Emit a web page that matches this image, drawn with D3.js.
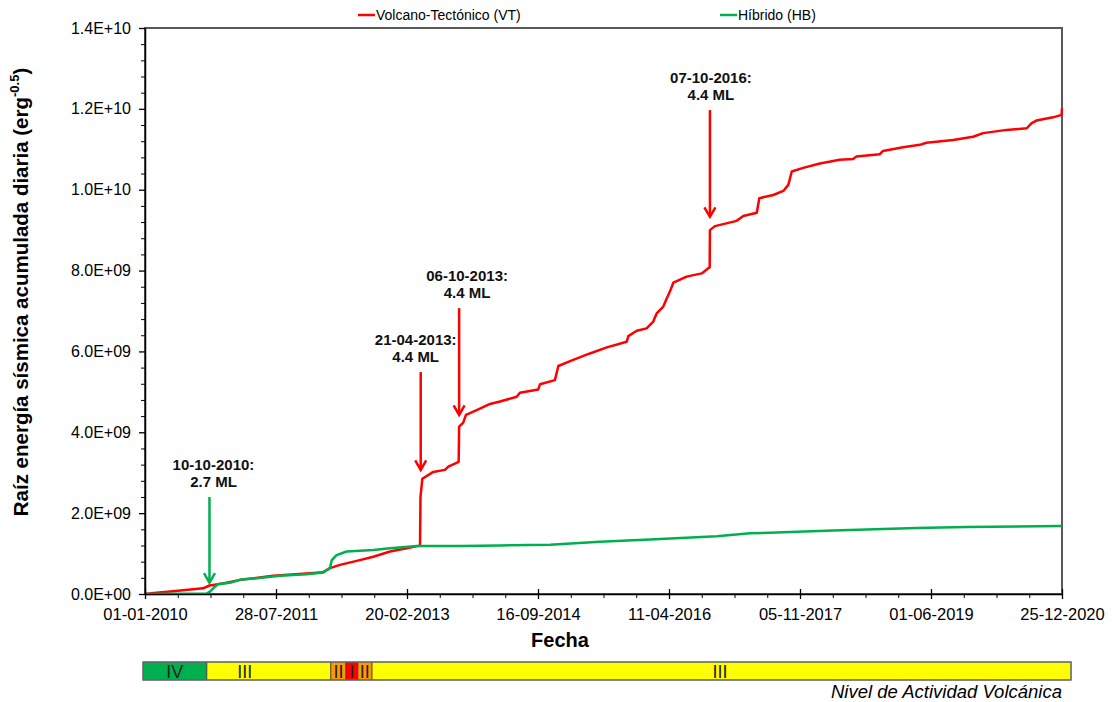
<!DOCTYPE html>
<html>
<head>
<meta charset="utf-8">
<script src="https://cdn.jsdelivr.net/npm/d3@7"></script>
<style>
  body { margin: 0; background: #fff; }
  svg { display: block; font-family: "Liberation Sans", Arial, sans-serif; }
</style>
</head>
<body>
<svg id="chart" width="1112" height="702"></svg>
<script>
// ---- Series: cumulative square-root seismic energy (erg^0.5) ----
const vtDates = [
  "2010-01-01","2010-02-20","2010-05-03","2010-09-12","2010-10-10","2010-12-08",
  "2011-02-21","2011-07-15","2011-12-09","2012-02-19","2012-03-20","2012-05-03",
  "2012-07-15","2012-09-26","2012-12-08","2013-02-19","2013-04-10","2013-04-18",
  "2013-04-20","2013-04-28","2013-06-15","2013-08-05","2013-08-20","2013-10-04",
  "2013-10-06","2013-10-24","2013-11-05","2013-12-22","2014-02-18","2014-04-03",
  "2014-06-15","2014-06-29","2014-09-17","2014-09-25","2014-11-29","2014-12-14",
  "2015-02-17","2015-05-01","2015-07-14","2015-10-09","2015-10-16","2015-11-22",
  "2016-01-04","2016-02-02","2016-02-17","2016-03-17","2016-04-01","2016-04-15",
  "2016-04-30","2016-06-27","2016-09-01","2016-09-30","2016-10-06","2016-10-07",
  "2016-10-29","2017-02-01","2017-03-02","2017-04-30","2017-05-11","2017-07-11",
  "2017-08-24","2017-09-15","2017-09-30","2017-11-19","2018-01-31","2018-04-28",
  "2018-06-25","2018-07-10","2018-10-20","2018-11-03","2019-01-30","2019-04-13",
  "2019-05-12","2019-09-06","2019-12-02","2020-01-15","2020-04-27","2020-07-24",
  "2020-08-13","2020-09-04","2020-11-16","2020-12-23","2020-12-25"
];
const vtValues = [
  0, 0.03e9, 0.07e9, 0.14e9, 0.21e9, 0.26e9,
  0.35e9, 0.45e9, 0.51e9, 0.54e9, 0.64e9, 0.72e9,
  0.82e9, 0.92e9, 1.05e9, 1.13e9, 1.19e9, 1.21e9,
  2.40e9, 2.85e9, 3.02e9, 3.07e9, 3.15e9, 3.27e9,
  4.14e9, 4.24e9, 4.43e9, 4.55e9, 4.70e9, 4.76e9,
  4.88e9, 4.98e9, 5.06e9, 5.19e9, 5.29e9, 5.64e9,
  5.79e9, 5.95e9, 6.10e9, 6.24e9, 6.38e9, 6.51e9,
  6.57e9, 6.74e9, 6.94e9, 7.11e9, 7.31e9, 7.48e9,
  7.70e9, 7.85e9, 7.93e9, 8.06e9, 8.08e9, 9.00e9,
  9.10e9, 9.23e9, 9.35e9, 9.43e9, 9.79e9, 9.87e9,
  9.97e9, 10.12e9, 10.45e9, 10.54e9, 10.65e9, 10.74e9,
  10.76e9, 10.82e9, 10.88e9, 10.96e9, 11.05e9, 11.11e9,
  11.16e9, 11.23e9, 11.31e9, 11.40e9, 11.48e9, 11.52e9,
  11.64e9, 11.71e9, 11.79e9, 11.85e9, 12.01e9
];
const hbDates = [
  "2010-01-01","2010-09-28","2010-10-12","2010-11-03","2010-11-18","2011-01-08",
  "2011-02-21","2011-05-05","2011-08-15","2011-12-09","2012-02-19","2012-03-20",
  "2012-03-28","2012-04-18","2012-06-01","2012-09-26","2012-12-08","2013-04-03",
  "2013-10-10","2014-04-03","2014-11-08","2015-06-14","2016-01-19","2016-11-06",
  "2017-03-31","2018-03-30","2019-03-30","2019-11-03","2020-12-25"
];
const hbValues = [
  0, 0.01e9, 0.06e9, 0.18e9, 0.25e9, 0.28e9,
  0.35e9, 0.39e9, 0.45e9, 0.49e9, 0.53e9, 0.64e9,
  0.84e9, 0.96e9, 1.05e9, 1.09e9, 1.13e9, 1.19e9,
  1.19e9, 1.20e9, 1.22e9, 1.29e9, 1.35e9, 1.43e9,
  1.50e9, 1.57e9, 1.63e9, 1.66e9, 1.68e9
];
const seriesNames = ["Volcano-Tectónico (VT)", "Híbrido (HB)"];

// ---- Axes ----
const xTickLabels = ["01-01-2010","28-07-2011","20-02-2013","16-09-2014","11-04-2016","05-11-2017","01-06-2019","25-12-2020"];
const yTickValues = [0, 2e9, 4e9, 6e9, 8e9, 1e10, 1.2e10, 1.4e10];
const yTickLabels = ["0.0E+00","2.0E+09","4.0E+09","6.0E+09","8.0E+09","1.0E+10","1.2E+10","1.4E+10"];

// ---- Notable earthquakes ----
const eventDates = ["10-10-2010","21-04-2013","06-10-2013","07-10-2016"];
const eventMagnitudes = ["2.7 ML","4.4 ML","4.4 ML","4.4 ML"];
const eventSeries = [1, 0, 0, 0];
const eventArrowTip = [0.28e9, 3.07e9, 4.43e9, 9.33e9];
const eventArrowTail = [2.40e9, 5.49e9, 7.07e9, 11.97e9];
const eventLabelShift = [4, -5, 8, 1];

// ---- Volcanic activity level ----
const levelNames = ["IV","III","II","I","II","III"];
const levelStarts = ["2010-01-01","2010-10-04","2012-03-23","2012-05-27","2012-07-18","2012-09-17"];
const levelEnds = ["2010-10-04","2012-03-23","2012-05-27","2012-07-18","2012-09-17","2020-12-25"];
const levelLabelDates = ["2010-05-18","2011-03-17","2012-04-25","2012-06-22","2012-08-17","2016-10-30"];

// ---- Styles ----
const seriesColors = ["#ff0000", "#00b050"];
const levelColors = { "IV": "#00b050", "III": "#ffff00", "II": "#ff9900", "I": "#ff0000" };

const svg = d3.select("#chart");
const plot = { left: 145, right: 1062, top: 28, bottom: 594 };

const parseISO = d3.utcParse("%Y-%m-%d");
const parseDMY = d3.utcParse("%d-%m-%Y");
const fmtDMY = d3.utcFormat("%d-%m-%Y");

const majorDates = xTickLabels.map(parseDMY);
const x = d3.scaleUtc()
  .domain([majorDates[0], majorDates[majorDates.length - 1]])
  .range([plot.left, plot.right]);
const y = d3.scaleLinear().domain([0, 1.4e10]).range([plot.bottom, plot.top]);

// minor x ticks: four intervals per major interval
const minorDates = [];
for (let i = 0; i < majorDates.length - 1; i++) {
  const t0 = +majorDates[i], t1 = +majorDates[i + 1];
  for (let k = 1; k < 4; k++) minorDates.push(new Date(t0 + (t1 - t0) * k / 4));
}
const minorY = d3.range(0, 1.4e10 + 1, 0.4e9).filter(v => !yTickValues.includes(v));

// plot frame
svg.append("rect")
  .attr("x", plot.left).attr("y", plot.top)
  .attr("width", plot.right - plot.left).attr("height", plot.bottom - plot.top)
  .attr("fill", "none").attr("stroke", "#595959").attr("stroke-width", 2);

// series
const vt = vtDates.map((d, i) => ({ date: parseISO(d), value: vtValues[i] }));
const hb = hbDates.map((d, i) => ({ date: parseISO(d), value: hbValues[i] }));
const line = d3.line().x(d => x(d.date)).y(d => y(d.value));

svg.append("path").datum(vt).attr("d", line)
  .attr("fill", "none").attr("stroke", seriesColors[0]).attr("stroke-width", 2.5)
  .attr("stroke-linejoin", "round");
svg.append("path").datum(hb).attr("d", line)
  .attr("fill", "none").attr("stroke", seriesColors[1]).attr("stroke-width", 2.5)
  .attr("stroke-linejoin", "round");

// x axis
const gx = svg.append("g").attr("transform", `translate(0,${plot.bottom})`);
gx.call(d3.axisBottom(x).tickValues(majorDates).tickFormat(fmtDMY)
  .tickSize(5).tickSizeOuter(0).tickPadding(9));
gx.selectAll("text").attr("font-size", 16.5).attr("fill", "#000")
  .attr("font-family", "'Liberation Sans', Arial, sans-serif");
gx.select(".domain").attr("stroke", "#000").attr("stroke-width", 1.5);
gx.selectAll(".tick line").attr("stroke", "#000").attr("stroke-width", 1.3);
const gxIn = svg.append("g").attr("transform", `translate(0,${plot.bottom})`);
gxIn.call(d3.axisTop(x).tickValues(majorDates).tickFormat("").tickSize(5).tickSizeOuter(0));
gxIn.select(".domain").remove();
gxIn.selectAll(".tick line").attr("stroke", "#000").attr("stroke-width", 1.3);
const gxMinor = svg.append("g").attr("transform", `translate(0,${plot.bottom})`);
gxMinor.call(d3.axisBottom(x).tickValues(minorDates).tickFormat("").tickSize(4).tickSizeOuter(0));
gxMinor.select(".domain").remove();
gxMinor.selectAll(".tick line").attr("stroke", "#000");

// y axis
const gy = svg.append("g").attr("transform", `translate(${plot.left},0)`);
gy.call(d3.axisLeft(y).tickValues(yTickValues).tickFormat((d, i) => yTickLabels[i])
  .tickSize(6).tickSizeOuter(0).tickPadding(8));
gy.selectAll("text").attr("font-size", 16).attr("fill", "#000")
  .attr("font-family", "'Liberation Sans', Arial, sans-serif");
gy.select(".domain").attr("stroke", "#000").attr("stroke-width", 1.5);
gy.selectAll(".tick line").attr("stroke", "#000").attr("stroke-width", 1.3);
const gyMinor = svg.append("g").attr("transform", `translate(${plot.left},0)`);
gyMinor.call(d3.axisLeft(y).tickValues(minorY).tickFormat("").tickSize(4).tickSizeOuter(0));
gyMinor.select(".domain").remove();
gyMinor.selectAll(".tick line").attr("stroke", "#000");

// axis titles
svg.append("text")
  .attr("x", 560).attr("y", 647)
  .attr("text-anchor", "middle").attr("font-size", 20).attr("font-weight", "bold")
  .text("Fecha");
const yTitle = svg.append("text")
  .attr("transform", `translate(28,${(plot.top + plot.bottom) / 2 - 19}) rotate(-90)`)
  .attr("text-anchor", "middle").attr("font-size", 20.5).attr("font-weight", "bold");
yTitle.append("tspan").text("Raíz energía sísmica acumulada diaria (erg");
yTitle.append("tspan").attr("font-size", 13).attr("dy", -9).text("-0.5");
yTitle.append("tspan").attr("dy", 9).text(")");

// legend
const legendX = [358, 720];
seriesNames.forEach((name, i) => {
  const g = svg.append("g").attr("transform", `translate(${legendX[i]},15)`);
  g.append("line").attr("x1", 0).attr("x2", 17).attr("y1", 0).attr("y2", 0)
    .attr("stroke", seriesColors[i]).attr("stroke-width", 2.5);
  g.append("text").attr("x", 18).attr("y", 5).attr("font-size", 14).text(name);
});

// event arrows and labels
eventDates.forEach((ds, i) => {
  const d = parseDMY(ds);
  const ax = x(d);
  const tipY = y(eventArrowTip[i]);
  const tailY = y(eventArrowTail[i]);
  const col = seriesColors[eventSeries[i]];
  svg.append("line").attr("x1", ax).attr("x2", ax).attr("y1", tailY).attr("y2", tipY - 1)
    .attr("stroke", col).attr("stroke-width", 2.5);
  svg.append("path")
    .attr("d", `M${ax - 5.5},${tipY - 9.5}L${ax},${tipY}L${ax + 5.5},${tipY - 9.5}`)
    .attr("fill", "none").attr("stroke", col).attr("stroke-width", 2.5)
    .attr("stroke-linejoin", "miter");
  const lx = ax + eventLabelShift[i];
  svg.append("text").attr("x", lx).attr("y", tailY - 27)
    .attr("text-anchor", "middle").attr("font-size", 15).attr("font-weight", "bold")
    .attr("fill", "#111").text(ds + ":");
  svg.append("text").attr("x", lx).attr("y", tailY - 10)
    .attr("text-anchor", "middle").attr("font-size", 15).attr("font-weight", "bold")
    .attr("fill", "#111").text(eventMagnitudes[i]);
});

// activity level strip
const bar = { left: 143, right: 1071, top: 662, bottom: 680 };
const bx = d3.scaleUtc().domain(x.domain()).range([bar.left, bar.right]);
const gBar = svg.append("g");
levelNames.forEach((lvl, i) => {
  const x0 = bx(parseISO(levelStarts[i])), x1 = bx(parseISO(levelEnds[i]));
  gBar.append("rect").attr("x", x0).attr("y", bar.top)
    .attr("width", x1 - x0).attr("height", bar.bottom - bar.top)
    .attr("fill", levelColors[lvl]).attr("stroke", "#404040").attr("stroke-width", 0.8);
  gBar.append("text").attr("x", bx(parseISO(levelLabelDates[i])))
    .attr("y", (bar.top + bar.bottom) / 2 + 6.5)
    .attr("text-anchor", "middle").attr("font-size", 18).attr("fill", "#222")
    .text(lvl);
});
gBar.append("rect").attr("x", bar.left).attr("y", bar.top)
  .attr("width", bar.right - bar.left).attr("height", bar.bottom - bar.top)
  .attr("fill", "none").attr("stroke", "#6e6e6e").attr("stroke-width", 1.3);
svg.append("text").attr("x", 1062).attr("y", 698)
  .attr("text-anchor", "end").attr("font-size", 18.5).attr("font-style", "italic")
  .text("Nivel de Actividad Volcánica");
</script>
</body>
</html>
